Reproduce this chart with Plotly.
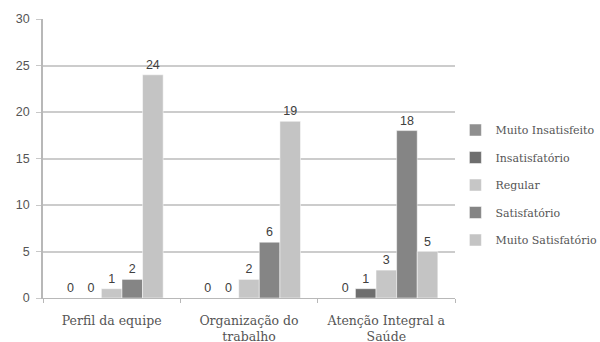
import plotly.graph_objects as go

categories = ["Perfil da equipe", "Organização do<br>trabalho", "Atenção Integral a<br>Saúde"]
series_names = ["Muito Insatisfeito", "Insatisfatório", "Regular", "Satisfatório", "Muito Satisfatório"]
muito_insatisfeito = [0, 0, 0]
insatisfatorio = [0, 0, 1]
regular = [1, 2, 3]
satisfatorio = [2, 6, 18]
muito_satisfatorio = [24, 19, 5]
y_ticks = [0, 5, 10, 15, 20, 25, 30]

values = [muito_insatisfeito, insatisfatorio, regular, satisfatorio, muito_satisfatorio]
colors = ["#8f8f8f", "#6e6e6e", "#c6c6c6", "#858585", "#c4c4c4"]

fig = go.Figure()
for name, vals, col in zip(series_names, values, colors):
    fig.add_trace(go.Bar(
        x=categories, y=vals, name=name, legendgroup=name,
        marker=dict(color=col, line=dict(color="#ffffff", width=0.5)),
        text=vals, textposition="outside", cliponaxis=False,
        textfont=dict(family="Liberation Sans", size=12.5, color="#404040"),
    ))

fig.update_layout(
    width=600, height=342,
    margin=dict(l=43, r=145, t=19, b=44),
    paper_bgcolor="white", plot_bgcolor="white",
    barmode="group", bargap=0.25, bargroupgap=0.0,
    showlegend=True,
    legend=dict(xref="container", yref="container", x=0.759, xanchor="left",
                y=0.459, yanchor="middle",
                font=dict(family="DejaVu Serif", size=11, color="#555555"),
                tracegroupgap=8.5, itemwidth=30, bgcolor="rgba(0,0,0,0)"),
    font=dict(family="DejaVu Serif", color="#444444"),
)
fig.update_xaxes(
    showline=True, linecolor="#b8b8b8", linewidth=1,
    ticks="outside", tickson="boundaries", ticklen=4, tickcolor="#b8b8b8",
    tickfont=dict(family="DejaVu Serif", size=12.5, color="#555555"),
    ticklabelstandoff=11, automargin=False,
)
fig.update_yaxes(
    range=[0, 30], tickvals=y_ticks, showgrid=True, gridcolor="#cccccc", gridwidth=1.5,
    showline=True, linecolor="#b8b8b8", linewidth=1.5,
    ticks="outside", ticklen=5, tickcolor="#c8c8c8",
    tickfont=dict(family="Liberation Sans", size=12.5, color="#555555"),
    ticklabelstandoff=4, automargin=False,
    zeroline=False,
)
fig.write_html("out.html")
